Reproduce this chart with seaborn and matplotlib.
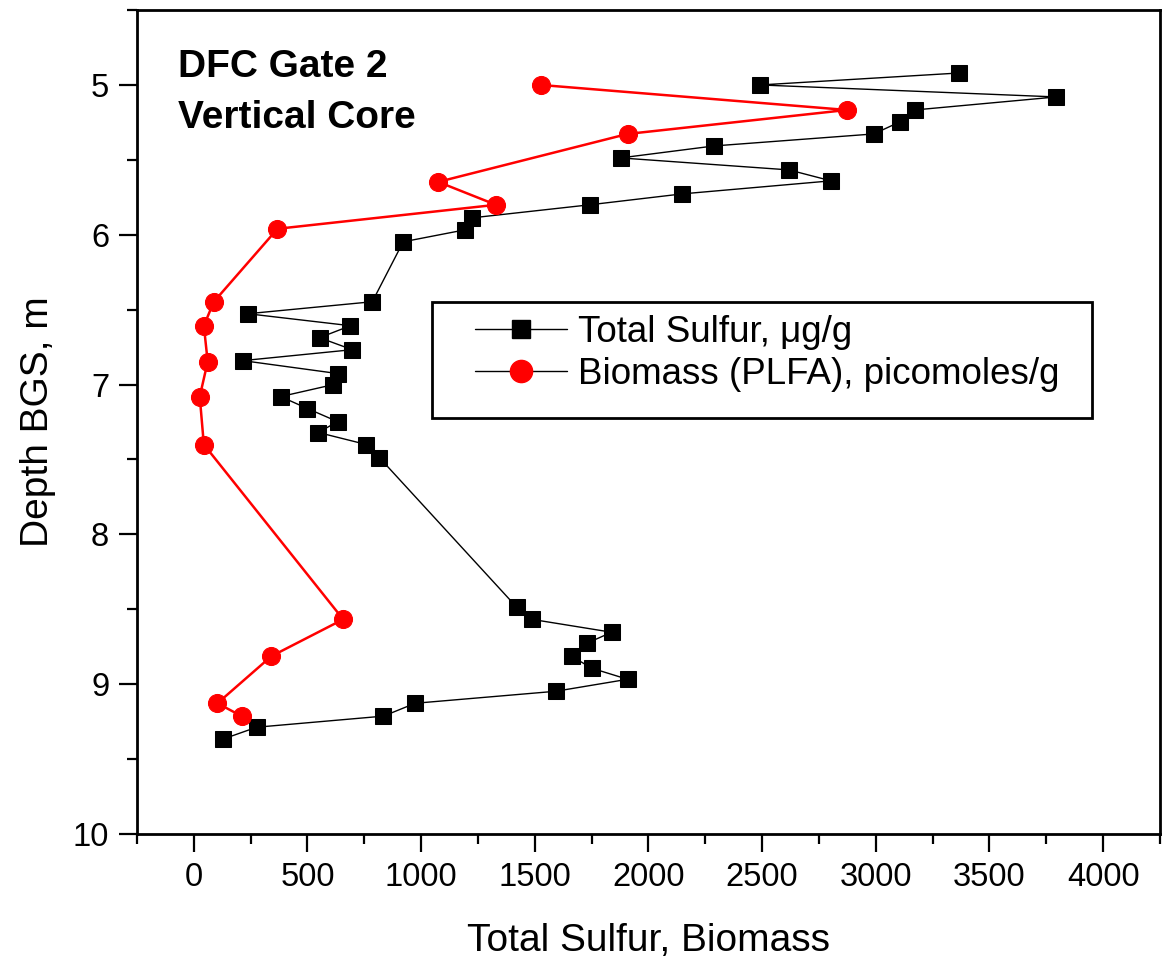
import matplotlib
matplotlib.use("Agg")
import matplotlib.pyplot as plt
from matplotlib.lines import Line2D
from matplotlib.patches import Rectangle
from matplotlib.ticker import MultipleLocator
import seaborn as sns
import pandas as pd

# Total sulfur profile (ug/g) vs depth below ground surface (m)
sulfur_depth = [4.92, 5.00, 5.08, 5.167, 5.247, 5.327, 5.407, 5.487, 5.567, 5.64,
                5.727, 5.80, 5.887, 5.967, 6.047, 6.447, 6.527, 6.607, 6.687, 6.767,
                6.84, 6.927, 7.00, 7.08, 7.16, 7.247, 7.32, 7.40, 7.487, 8.487,
                8.567, 8.653, 8.727, 8.813, 8.893, 8.967, 9.047, 9.127, 9.213, 9.287,
                9.367]
sulfur = [3368, 2491, 3794, 3171, 3105, 2991, 2289, 1877, 2618, 2803,
          2149, 1741, 1224, 1193, 921, 785, 237, 689, 553, 697,
          215, 636, 614, 382, 500, 632, 548, 759, 816, 1421,
          1487, 1838, 1728, 1662, 1750, 1908, 1592, 974, 834, 276,
          127]

# Biomass (PLFA, picomoles/g) vs depth
biomass_depth = [5.00, 5.167, 5.327, 5.647, 5.80, 5.96, 6.447, 6.607, 6.847, 7.08,
                 7.40, 8.567, 8.813, 9.127, 9.213]
biomass = [1526, 2873, 1908, 1075, 1329, 368, 88, 44, 61, 26,
           44, 657, 341, 104, 210]

sulfur_label = "Total Sulfur, \u03bcg/g"
biomass_label = "Biomass (PLFA), picomoles/g"

df_s = pd.DataFrame({"value": sulfur, "depth": sulfur_depth})
df_b = pd.DataFrame({"value": biomass, "depth": biomass_depth})

sns.set_style("ticks")
plt.rcParams["font.family"] = ["Liberation Sans", "DejaVu Sans"]
plt.rcParams["text.color"] = "black"
plt.rcParams["axes.labelcolor"] = "black"
plt.rcParams["xtick.color"] = "black"
plt.rcParams["ytick.color"] = "black"

fig = plt.figure(figsize=(11.63, 9.66), dpi=100)
ax = fig.add_axes([0.1178, 0.1366, 0.8796, 0.853])

sns.lineplot(data=df_s, x="value", y="depth", sort=False, estimator=None,
             color="black", linewidth=1.0, marker="s", markersize=11.5,
             markeredgecolor="black", markerfacecolor="black", ax=ax)
sns.lineplot(data=df_b, x="value", y="depth", sort=False, estimator=None,
             color="#ff0000", linewidth=1.8, marker="o", markersize=13,
             markeredgecolor="#ff0000", markerfacecolor="#ff0000", ax=ax)

ax.set_xlim(-250, 4250)
ax.set_ylim(10, 4.5)
ax.xaxis.set_major_locator(MultipleLocator(500))
ax.xaxis.set_minor_locator(MultipleLocator(250))
ax.yaxis.set_major_locator(MultipleLocator(1))
ax.yaxis.set_minor_locator(MultipleLocator(0.5))
ax.set_xticks([0, 500, 1000, 1500, 2000, 2500, 3000, 3500, 4000])

ax.tick_params(which="major", direction="out", length=13, width=1.6,
               labelsize=23.5, pad=7)
ax.tick_params(which="minor", direction="out", length=7, width=1.6)
for side in ["left", "right", "top", "bottom"]:
    ax.spines[side].set_visible(True)
    ax.spines[side].set_linewidth(2.0)
    ax.spines[side].set_color("black")

ax.set_xlabel("Total Sulfur, Biomass", fontsize=28, labelpad=22)
ax.set_ylabel("Depth BGS, m", fontsize=28, labelpad=12)

ax.text(0.040, 0.953, "DFC Gate 2\nVertical Core", transform=ax.transAxes,
        fontsize=28, fontweight="bold", va="top", ha="left", linespacing=1.55)

# legend frame drawn separately (extra space at the bottom as in the original)
ax.add_patch(Rectangle((0.288, 0.505), 0.646, 0.141, transform=ax.transAxes,
                       fill=False, edgecolor="black", linewidth=2.0, zorder=5))

handles = [
    Line2D([], [], color="black", linewidth=1.0, marker="s", markersize=13,
           markerfacecolor="black", markeredgecolor="black"),
    Line2D([], [], color="black", linewidth=1.0, marker="o", markersize=16,
           markerfacecolor="#ff0000", markeredgecolor="#ff0000"),
]
leg = ax.legend(handles, [sulfur_label, biomass_label], loc="upper left",
                bbox_to_anchor=(0.330, 0.630), fontsize=26.5, frameon=False,
                handlelength=2.5, handletextpad=0.3, labelspacing=0.2,
                borderpad=0, borderaxespad=0)

fig.savefig("out.png", dpi=100)
